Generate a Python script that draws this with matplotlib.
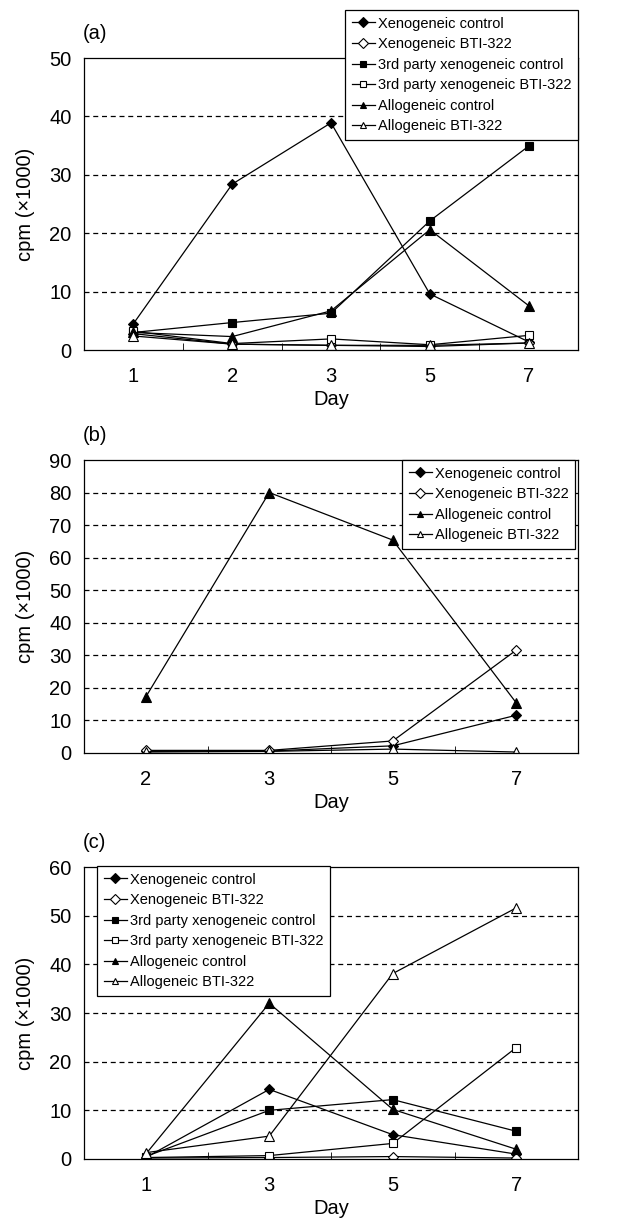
import matplotlib.pyplot as plt
from matplotlib.ticker import FixedLocator

plt.rcParams['font.family'] = ['Liberation Sans', 'DejaVu Sans']

labels_full = ["Xenogeneic control", "Xenogeneic BTI-322",
               "3rd party xenogeneic control", "3rd party xenogeneic BTI-322",
               "Allogeneic control", "Allogeneic BTI-322"]
labels_b = ["Xenogeneic control", "Xenogeneic BTI-322",
            "Allogeneic control", "Allogeneic BTI-322"]

# panel (a)
days_a = ["1", "2", "3", "5", "7"]
xeno_ctrl_a = [4.5, 28.4, 38.9, 9.6, 1.4]
xeno_bti_a = [2.8, 1.0, 0.8, 0.6, 1.2]
third_ctrl_a = [3.0, 4.7, 6.3, 22.1, 34.9]
third_bti_a = [3.2, 1.1, 1.9, 0.9, 2.5]
allo_ctrl_a = [3.0, 2.3, 6.7, 20.6, 7.6]
allo_bti_a = [2.4, 1.0, 0.8, 0.8, 1.2]

# panel (b)
days_b = ["2", "3", "5", "7"]
xeno_ctrl_b = [0.5, 0.6, 2.2, 11.6]
xeno_bti_b = [0.8, 0.8, 3.7, 31.6]
allo_ctrl_b = [17.2, 80.0, 65.4, 15.4]
allo_bti_b = [0.3, 0.5, 1.2, 0.3]

# panel (c)
days_c = ["1", "3", "5", "7"]
xeno_ctrl_c = [0.3, 14.3, 5.0, 1.0]
xeno_bti_c = [0.2, 0.3, 0.5, 0.2]
third_ctrl_c = [0.5, 10.0, 12.2, 5.7]
third_bti_c = [0.3, 0.7, 3.2, 22.9]
allo_ctrl_c = [1.0, 32.0, 10.2, 2.0]
allo_bti_c = [1.3, 4.7, 38.1, 51.6]

styles = {
    "Xenogeneic control": dict(marker='D', mfc='black', ms=5.5),
    "Xenogeneic BTI-322": dict(marker='D', mfc='white', ms=5.5),
    "3rd party xenogeneic control": dict(marker='s', mfc='black', ms=5.5),
    "3rd party xenogeneic BTI-322": dict(marker='s', mfc='white', ms=5.5),
    "Allogeneic control": dict(marker='^', mfc='black', ms=7),
    "Allogeneic BTI-322": dict(marker='^', mfc='white', ms=7),
}

fig = plt.figure(figsize=(6.18, 12.19), dpi=100)
W, H = 618, 1219


def axes_px(left, top, right, bottom):
    return fig.add_axes([left / W, 1 - bottom / H, (right - left) / W, (bottom - top) / H])


def draw_panel(ax, days, series, names, ymax, tag, top):
    x = list(range(len(days)))
    for vals, name in zip(series, names):
        ax.plot(x, vals, color='black', lw=0.9, mec='black', mew=0.8,
                label=name, **styles[name])
    ax.set_xlim(-0.5, len(days) - 0.5)
    ax.set_ylim(0, ymax)
    ax.set_xticks(x)
    ax.set_xticklabels(days)
    ax.xaxis.set_minor_locator(FixedLocator([i + 0.5 for i in range(len(days) - 1)]))
    ax.tick_params(axis='x', which='major', length=0, pad=12, labelsize=14.5)
    ax.tick_params(axis='x', which='minor', direction='in', length=5)
    ax.tick_params(axis='y', length=0, pad=9, labelsize=14.5)
    ax.set_yticks(range(0, ymax + 1, 10))
    for g in range(10, ymax, 10):
        ax.axhline(g, color='black', lw=0.9, ls=(0, (4, 3)), zorder=0)
    ax.set_xlabel("Day", fontsize=14.5, labelpad=3)
    ax.set_ylabel("cpm (\u00d71000)", fontsize=14.5, labelpad=10)
    for s in ax.spines.values():
        s.set_linewidth(0.9)
    fig.text(83 / W, 1 - (top - 19) / H, tag, fontsize=14.5, ha='left', va='baseline')


ax_a = axes_px(84, 58, 578, 350)
draw_panel(ax_a, days_a,
           [xeno_ctrl_a, xeno_bti_a, third_ctrl_a, third_bti_a, allo_ctrl_a, allo_bti_a],
           labels_full, 50, "(a)", 58)

ax_b = axes_px(84, 460, 578, 753)
draw_panel(ax_b, days_b, [xeno_ctrl_b, xeno_bti_b, allo_ctrl_b, allo_bti_b],
           labels_b, 90, "(b)", 460)

ax_c = axes_px(84, 867, 578, 1159)
draw_panel(ax_c, days_c,
           [xeno_ctrl_c, xeno_bti_c, third_ctrl_c, third_bti_c, allo_ctrl_c, allo_bti_c],
           labels_full, 60, "(c)", 867)


def legend_px(ax, left, top):
    leg = ax.legend(loc='upper left', bbox_to_anchor=(left / W, 1 - top / H),
                    bbox_transform=fig.transFigure, fontsize=10.5, frameon=True,
                    fancybox=False, edgecolor='black', framealpha=1,
                    handlelength=1.6, handletextpad=0.2, labelspacing=0.45,
                    borderpad=0.45, borderaxespad=0)
    leg.get_frame().set_linewidth(0.9)
    for h in leg.legend_handles:
        h.set_markersize(5)
    return leg


legend_px(ax_a, 345, 10)
legend_px(ax_b, 402, 460)
legend_px(ax_c, 97, 866)

fig.savefig("out.png", dpi=100)
